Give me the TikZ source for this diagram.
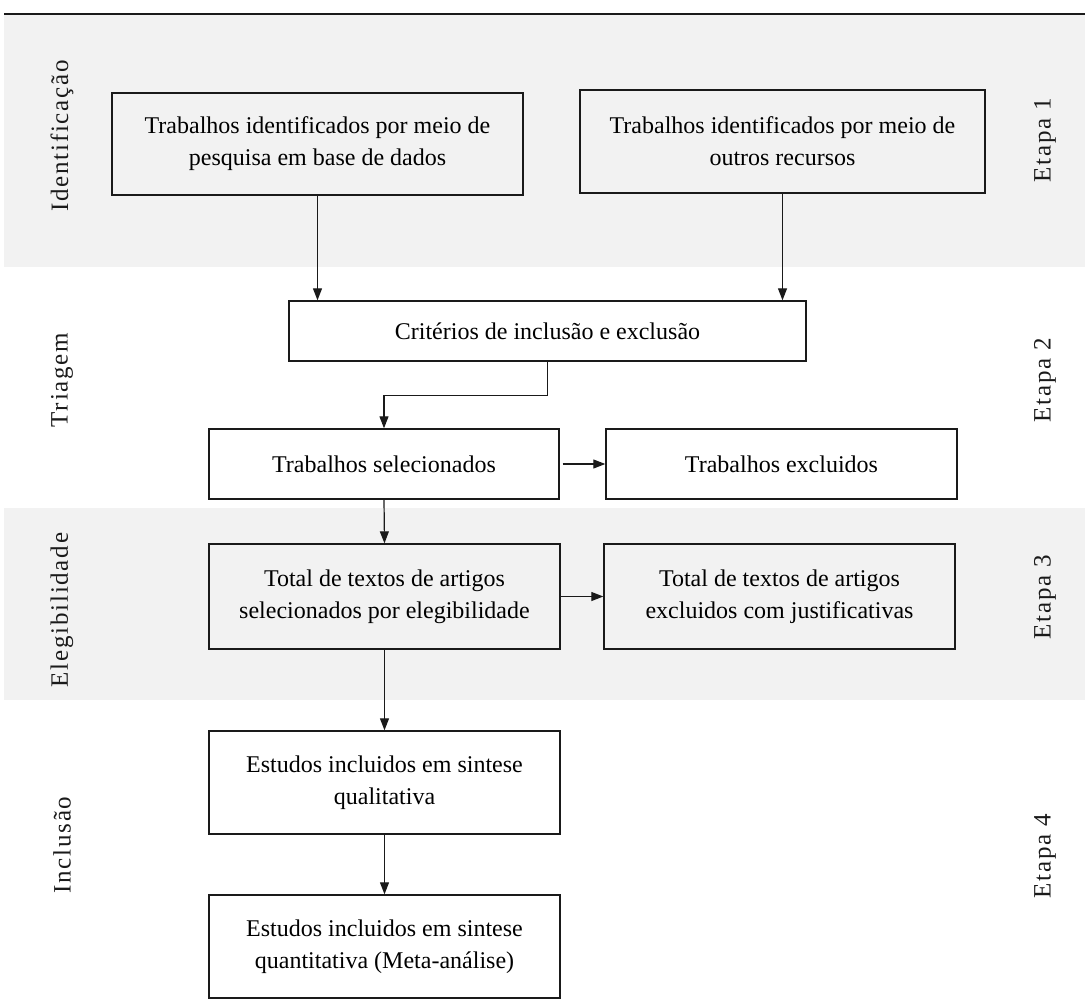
\documentclass[tikz,border=0pt]{standalone}
\usepackage{fontspec}
\setmainfont{Liberation Serif}
\newfontfamily\sidefont[LetterSpace=7]{Liberation Serif}
\usetikzlibrary{arrows.meta}
\definecolor{bandgray}{HTML}{F2F2F2}
\definecolor{ink}{HTML}{1A1A1A}
\begin{document}
\begin{tikzpicture}[x=1pt,y=-1pt,
  box/.style={draw=ink, line width=1.4pt, align=center, inner sep=0pt,
              font=\fontsize{24}{32}\selectfont},
  arr/.style={draw=ink, line width=1.2pt, -{Triangle[length=12pt,width=9pt]}},
  side/.style={rotate=90, inner sep=0pt, text=ink, font=\sidefont\fontsize{25}{28}\selectfont}]
\useasboundingbox (0,0) rectangle (1085,1004);
% bands
\fill[bandgray] (4,15) rectangle (1085,267);
\fill[bandgray] (4,508) rectangle (1085,700);
\draw[ink, line width=2pt] (4,14) -- (1085,14);
% boxes
\node[box, minimum width=411pt, minimum height=102pt] (A) at (317.5,144)
  {Trabalhos identificados por meio de\\pesquisa em base de dados};
\node[box, minimum width=405pt, minimum height=103pt] (B) at (782.5,141.5)
  {Trabalhos identificados por meio de\\outros recursos};
\node[box, minimum width=517pt, minimum height=60pt] (C) at (547.5,331)
  {Critérios de inclusão e exclusão};
\node[box, minimum width=350pt, minimum height=70pt] (D) at (384,464)
  {Trabalhos selecionados};
\node[box, minimum width=351pt, minimum height=70pt] (E) at (781.5,464)
  {Trabalhos excluidos};
\node[box, minimum width=351pt, minimum height=105pt] (F) at (384.5,596.5)
  {Total de textos de artigos\\selecionados por elegibilidade};
\node[box, minimum width=351pt, minimum height=105pt] (G) at (779.5,596.5)
  {Total de textos de artigos\\excluidos com justificativas};
\node[box, minimum width=351pt, minimum height=103pt] (H) at (384.5,782.5)
  {Estudos incluidos em sintese\\qualitativa};
\node[box, minimum width=351pt, minimum height=103pt] (I) at (384.5,946.5)
  {Estudos incluidos em sintese\\quantitativa (Meta-análise)};
% side labels
\node[side] (L1) at (62,136) {Identificação};
\node[side] (L2) at (62,380) {Triagem};
\node[side] (L3) at (62,610) {Elegibilidade};
\node[side] (L4) at (62,845) {Inclusão};
\node[side] (R1) at (1045,140) {Etapa 1};
\node[side] (R2) at (1045,380) {Etapa 2};
\node[side] (R3) at (1045,597) {Etapa 3};
\node[side] (R4) at (1045,856) {Etapa 4};
% connectors
\draw[arr] (A.south) -- (A.south |- C.north);
\draw[arr] (B.south) -- (B.south |- C.north);
\draw[arr] (C.south) -- ++(0,34) -| (D.north);
\draw[arr, shorten <=3pt] (D.east) -- (E.west);
\draw[arr] (D.south) -- (F.north);
\draw[arr] (F.east) -- (G.west);
\draw[arr] (F.south) -- (H.north);
\draw[arr] (H.south) -- (I.north);
\end{tikzpicture}
\end{document}
